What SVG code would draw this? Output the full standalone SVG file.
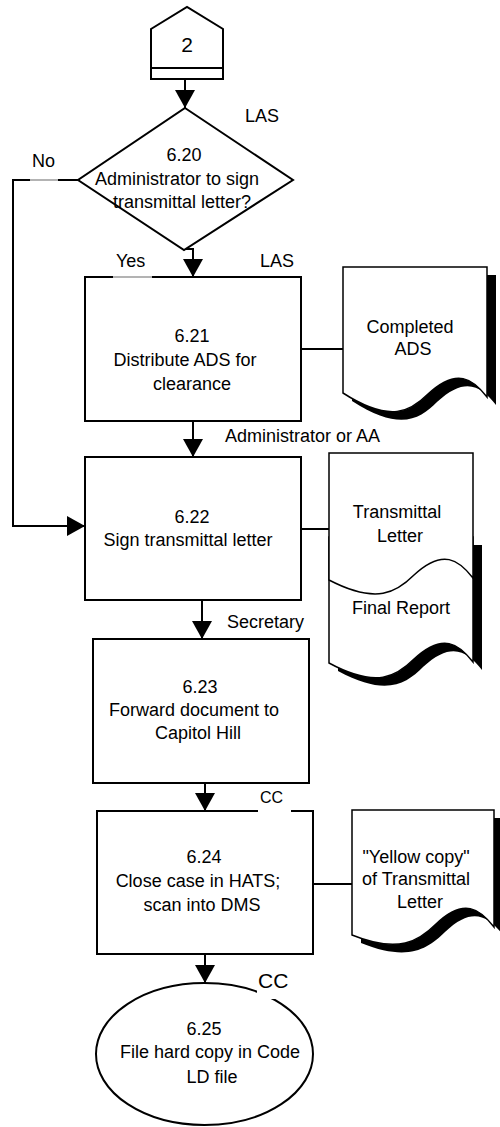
<svg xmlns="http://www.w3.org/2000/svg" width="500" height="1127" viewBox="0 0 500 1127">
<style>
text{font-family:"Liberation Sans",Arial,sans-serif;font-size:18px;fill:#000}
.c{text-anchor:middle}
.shape{fill:#fff;stroke:#000;stroke-width:2}
.doc{fill:#fff;stroke:#000;stroke-width:1.5}
.shadow{fill:#000;stroke:none}
.conn{fill:none;stroke:#000;stroke-width:2}
.arr{marker-end:url(#ah)}
.lblbg{fill:#fff;fill-opacity:0.7;stroke:none}
.lblbgw{fill:#fff;stroke:none}
</style>
<defs>
<marker id="ah" viewBox="0 0 18 20" refX="18" refY="10" markerWidth="18" markerHeight="20" markerUnits="userSpaceOnUse" orient="auto">
<path d="M0,0 L18,10 L0,20 Z" fill="#000"/>
</marker>
</defs>
<rect width="500" height="1127" fill="#fff"/>

<g id="connectors">
<path class="conn arr" d="M185,79 V108"/>
<path class="conn arr" d="M185,249 H193 V277"/>
<path class="conn arr" d="M193,421 V457"/>
<path class="conn arr" d="M78,180 H13 V526 H85"/>
<path class="conn arr" d="M202,600 V639"/>
<path class="conn arr" d="M205,783 V811"/>
<path class="conn arr" d="M205,954 V983"/>
<path class="conn" d="M301,349 H343"/>
<path class="conn" d="M301,529 H329"/>
<path class="conn" d="M313,884 H352"/>
</g>

<g id="offpage2">
<polygon class="shape" points="151,29 187,7 223,29 223,79 151,79"/>
<line x1="151" y1="68" x2="223" y2="68" stroke="#000" stroke-width="2"/>
<text class="c" x="187" y="52" style="font-size:21px">2</text>
</g>

<g id="n620">
<polygon class="shape" points="185,108 293,180 184,250 78,180"/>
<text class="c" x="184" y="161">6.20</text>
<text class="c" x="177" y="185">Administrator to sign</text>
<text class="c" x="182" y="208">transmittal letter?</text>
</g>

<g id="n621">
<rect class="shape" x="85" y="277" width="216" height="144"/>
<text class="c" x="192" y="342">6.21</text>
<text class="c" x="185" y="366">Distribute ADS for</text>
<text class="c" x="192" y="390">clearance</text>
</g>

<g id="n622">
<rect class="shape" x="85" y="457" width="216" height="143"/>
<text class="c" x="192" y="523">6.22</text>
<text class="c" x="188" y="546">Sign transmittal letter</text>
</g>

<g id="n623">
<rect class="shape" x="93" y="639" width="216" height="144"/>
<text class="c" x="200" y="693">6.23</text>
<text class="c" x="194" y="716">Forward document to</text>
<text class="c" x="198" y="739">Capitol Hill</text>
</g>

<g id="n624">
<rect class="shape" x="97" y="811" width="216" height="143"/>
<text class="c" x="204" y="863">6.24</text>
<text class="c" x="198" y="887">Close case in HATS;</text>
<text class="c" x="202" y="911">scan into DMS</text>
</g>

<g id="n625">
<ellipse class="shape" cx="204.5" cy="1054" rx="108.5" ry="71"/>
<text class="c" x="204" y="1035">6.25</text>
<text class="c" x="210" y="1058">File hard copy in Code</text>
<text class="c" x="212" y="1083">LD file</text>
</g>

<g id="docCompletedADS">
<path class="shadow" d="M352,275 H496 V405 C482,387 466,375 437,402 C420,419 400,432 352,401 Z"/>
<path class="doc" d="M343,267 H487 V397 C473,379 457,367 428,394 C411,411 391,424 343,393 Z"/>
<text class="c" x="410" y="333">Completed</text>
<text class="c" x="413" y="355">ADS</text>
</g>

<g id="docTransmittal">
<path class="shadow" d="M338,545 H482 V670 C468,652 452,640 423,667 C406,684 386,697 338,671 Z"/>
<path class="doc" d="M329,537 H473 V662 C459,644 443,632 414,659 C397,676 377,689 329,663 Z"/>
<path class="doc" d="M329,453 H473 V578 C459,560 443,548 414,575 C397,592 377,605 329,580 Z"/>
<text class="c" x="397" y="518">Transmittal</text>
<text class="c" x="400" y="542">Letter</text>
<text class="c" x="401" y="614">Final Report</text>
</g>

<g id="docYellow">
<path class="shadow" d="M361,818 H503 V935 C489,917 473,905 445,932 C428,949 408,962 361,943 Z"/>
<path class="doc" d="M352,810 H494 V927 C480,909 464,897 436,924 C419,941 399,954 352,935 Z"/>
<text class="c" x="416" y="863">"Yellow copy"</text>
<text class="c" x="416" y="885">of Transmittal</text>
<text class="c" x="420" y="908">Letter</text>
</g>

<g id="labels">
<rect class="lblbg" x="30" y="156" width="28" height="26"/>
<text x="32" y="167">No</text>
<text x="245" y="122">LAS</text>
<rect class="lblbg" x="113" y="253" width="39" height="26"/>
<text x="116" y="267">Yes</text>
<text x="260" y="267">LAS</text>
<text x="225" y="442">Administrator or AA</text>
<text x="227" y="628">Secretary</text>
<rect class="lblbgw" x="258" y="788" width="33" height="25"/>
<text x="260" y="803" style="font-size:16px">CC</text>
<rect class="lblbgw" x="257" y="968" width="36" height="31"/>
<text x="258" y="988" style="font-size:21px">CC</text>
</g>
</svg>
